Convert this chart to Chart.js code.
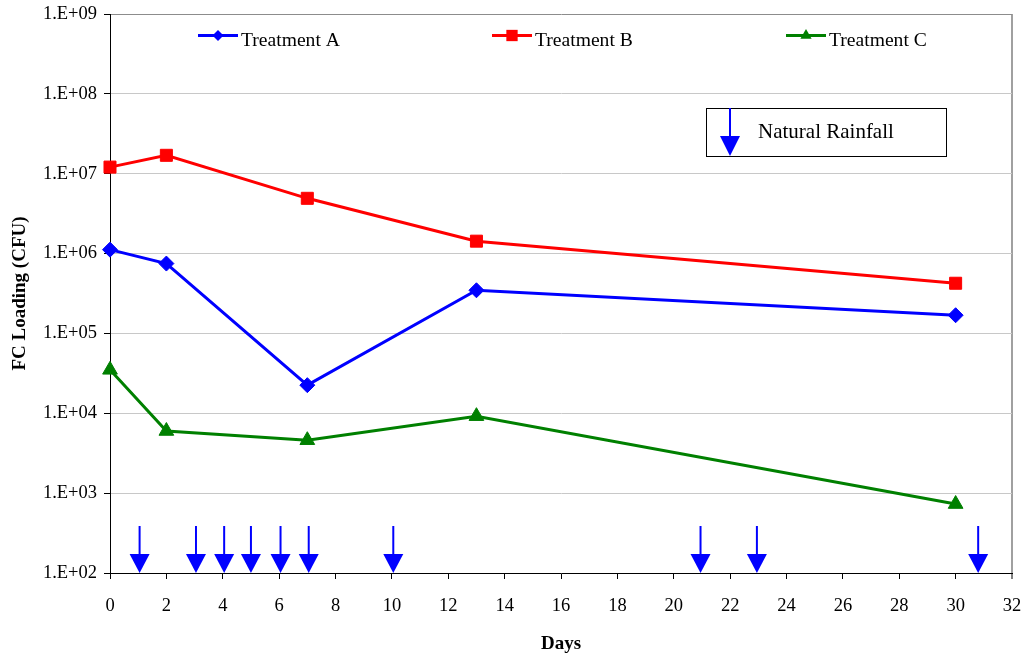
<!DOCTYPE html>
<html>
<head>
<meta charset="utf-8">
<script src="https://cdn.jsdelivr.net/npm/chart.js@4.4.0/dist/chart.umd.min.js"></script>
<style>
  html, body { margin: 0; padding: 0; background: #fff; }
  #wrap { width: 1024px; height: 658px; }
</style>
</head>
<body>
<div id="wrap"><canvas id="chart" width="1024" height="658"></canvas></div>
<script>
// Sampling days and faecal coliform loadings (CFU) per treatment
const sampleDays = [0, 2, 7, 13, 30];
const treatmentA = [1.12e6, 7.5e5, 2.25e4, 3.47e5, 1.69e5];
const treatmentB = [1.21e7, 1.70e7, 4.92e6, 1.43e6, 4.25e5];
const treatmentC = [3.5e4, 6.0e3, 4.6e3, 9.2e3, 7.3e2];
const seriesNames = ['Treatment A', 'Treatment B', 'Treatment C'];

// Days on which natural rainfall occurred
const rainfallDays = [1.05, 3.05, 4.05, 5.0, 6.05, 7.05, 10.05, 20.95, 22.95, 30.8];
const rainfallLabel = 'Natural Rainfall';

// Log-axis ticks (one per decade)
const yTickValues = [1e2, 1e3, 1e4, 1e5, 1e6, 1e7, 1e8, 1e9];

const FONT = '"Liberation Serif", "Times New Roman", Times, serif';
Chart.defaults.font.family = FONT;
Chart.defaults.color = '#000';

function toPoints(values) {
  return sampleDays.map((d, i) => ({ x: d, y: values[i] }));
}

function sciLabel(v) {
  const exp = Math.round(Math.log10(v));
  return '1.E+' + String(exp).padStart(2, '0');
}

function drawMarker(ctx, style, x, y, r, color) {
  ctx.save();
  ctx.fillStyle = color;
  ctx.beginPath();
  if (style === 'rectRot') {
    ctx.moveTo(x - r, y); ctx.lineTo(x, y - r); ctx.lineTo(x + r, y); ctx.lineTo(x, y + r);
  } else if (style === 'rect') {
    const s = r * Math.SQRT1_2;
    ctx.rect(x - s, y - s, 2 * s, 2 * s);
  } else {
    ctx.moveTo(x, y - r);
    ctx.lineTo(x + r * 0.866, y + r * 0.5);
    ctx.lineTo(x - r * 0.866, y + r * 0.5);
  }
  ctx.closePath();
  ctx.fill();
  ctx.restore();
}

function drawArrow(ctx, x, tipY, length, headH, headW) {
  ctx.save();
  ctx.strokeStyle = '#0000FF';
  ctx.fillStyle = '#0000FF';
  ctx.lineWidth = 2;
  ctx.beginPath();
  ctx.moveTo(x, tipY - length);
  ctx.lineTo(x, tipY - headH + 1);
  ctx.stroke();
  ctx.beginPath();
  ctx.moveTo(x - headW / 2, tipY - headH);
  ctx.lineTo(x + headW / 2, tipY - headH);
  ctx.lineTo(x, tipY);
  ctx.closePath();
  ctx.fill();
  ctx.restore();
}

// Rainfall arrows standing on the x axis
const rainfallPlugin = {
  id: 'rainfall',
  afterDatasetsDraw(chart) {
    const { ctx, scales } = chart;
    const tipY = scales.y.getPixelForValue(yTickValues[0]);
    rainfallDays.forEach(d => {
      drawArrow(ctx, scales.x.getPixelForValue(d), tipY, 47, 19, 20);
    });
  }
};

// Series legend across the top of the plot and the rainfall key box
const legendPlugin = {
  id: 'insideLegend',
  afterDraw(chart) {
    const { ctx, chartArea } = chart;
    const lineY = chartArea.top + 21.5;
    const textY = chartArea.top + 32;
    ctx.save();
    ctx.font = '19.6px ' + FONT;
    ctx.textBaseline = 'alphabetic';
    ctx.textAlign = 'left';
    chart.data.datasets.forEach((ds, i) => {
      const x0 = chartArea.left + 88 + i * 294;
      ctx.strokeStyle = ds.borderColor;
      ctx.lineWidth = 3;
      ctx.beginPath();
      ctx.moveTo(x0, lineY);
      ctx.lineTo(x0 + 40, lineY);
      ctx.stroke();
      drawMarker(ctx, ds.pointStyle, x0 + 20, lineY, ds.legendRadius, ds.borderColor);
      ctx.fillStyle = '#000';
      ctx.fillText(ds.label, x0 + 43, textY);
    });

    // rainfall key
    const bx = chartArea.left + 596, by = chartArea.top + 94, bw = 240, bh = 48;
    ctx.fillStyle = '#fff';
    ctx.fillRect(bx, by, bw, bh);
    ctx.strokeStyle = '#000';
    ctx.lineWidth = 1;
    ctx.strokeRect(bx + 0.5, by + 0.5, bw, bh);
    drawArrow(ctx, bx + 24, by + bh, bh, 20, 20);
    ctx.fillStyle = '#000';
    ctx.font = '21px ' + FONT;
    ctx.fillText(rainfallLabel, bx + 52, by + 30);
    ctx.restore();
  }
};

new Chart(document.getElementById('chart'), {
  type: 'line',
  data: {
    datasets: [
      { label: seriesNames[0], data: toPoints(treatmentA), borderColor: '#0000FF', backgroundColor: '#0000FF',
        pointStyle: 'rectRot', pointRadius: 7.5, legendRadius: 5.5 },
      { label: seriesNames[1], data: toPoints(treatmentB), borderColor: '#FF0000', backgroundColor: '#FF0000',
        pointStyle: 'rect', pointRadius: 8.5, legendRadius: 8 },
      { label: seriesNames[2], data: toPoints(treatmentC), borderColor: '#008000', backgroundColor: '#008000',
        pointStyle: 'triangle', pointRadius: 8.5, legendRadius: 6.5 }
    ]
  },
  options: {
    responsive: false,
    animation: false,
    layout: { padding: { top: 14, right: 12, left: 0, bottom: 0 } },
    elements: {
      line: { borderWidth: 3, tension: 0 },
      point: { borderWidth: 1 }
    },
    datasets: { line: { clip: false } },
    plugins: {
      legend: { display: false },
      tooltip: { enabled: false }
    },
    scales: {
      x: {
        type: 'linear',
        min: 0,
        max: 32,
        ticks: { stepSize: 2, padding: 16, font: { size: 18.5 }, color: '#000' },
        grid: {
          color: c => (c.tick && c.tick.value === 32 ? '#a0a0a0' : 'rgba(0,0,0,0)'),
          lineWidth: c => (c.tick && c.tick.value === 32 ? 2 : 1),
          tickColor: '#000',
          tickLength: 6,
          tickWidth: 1
        },
        border: { color: '#000', width: 1 },
        title: { display: true, text: 'Days', font: { size: 19, weight: 'bold' }, color: '#000', padding: { top: 0, bottom: 3 } },
        afterFit(scale) {
          scale.height = 85;
          scale.paddingLeft = 0;
          scale.paddingRight = 0;
        }
      },
      y: {
        type: 'logarithmic',
        min: yTickValues[0],
        max: yTickValues[yTickValues.length - 1],
        afterBuildTicks(scale) { scale.ticks = yTickValues.map(v => ({ value: v })); },
        ticks: { callback: v => sciLabel(v), padding: 7, font: { size: 18.5 }, color: '#000' },
        grid: {
          color: c => (c.tick && c.tick.value === 1e9 ? '#8c8c8c' : '#c8c8c8'),
          tickColor: '#000',
          tickLength: 6,
          tickWidth: 1
        },
        border: { color: '#000', width: 1 },
        title: { display: true, text: 'FC Loading (CFU)', font: { size: 19, weight: 'bold' }, color: '#000', padding: { top: 8.5, bottom: 0 } },
        afterFit(scale) {
          scale.width = 110;
          scale.paddingTop = 0;
          scale.paddingBottom = 0;
        }
      }
    }
  },
  plugins: [rainfallPlugin, legendPlugin]
});
</script>
</body>
</html>
